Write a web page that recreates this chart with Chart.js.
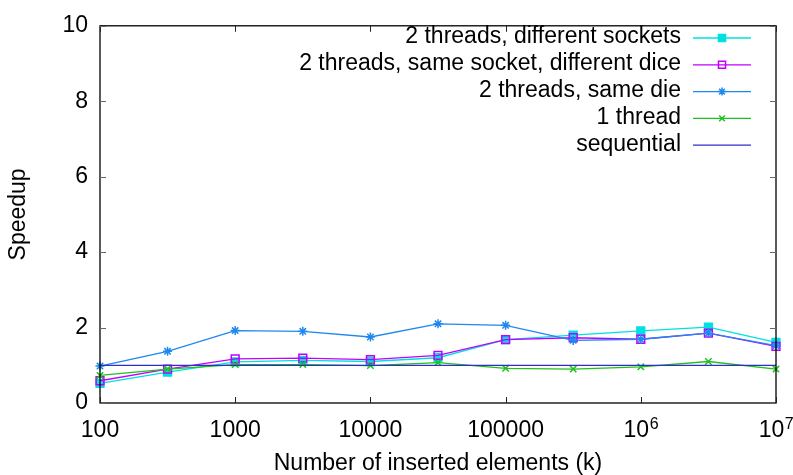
<!DOCTYPE html>
<html>
<head>
<meta charset="utf-8">
<script src="https://cdn.jsdelivr.net/npm/chart.js@4/dist/chart.umd.min.js"></script>
<style>
  html, body { margin: 0; padding: 0; background: #fff; }
  #wrap { width: 793px; height: 475px; }
</style>
</head>
<body>
<div id="wrap"><canvas id="c" width="793" height="475"></canvas></div>
<script>
// Number of inserted elements (k), half-decade steps
const elements = [100, 316, 1000, 3162, 10000, 31623, 100000, 316228, 1000000, 3162278, 10000000];

// Speedup per configuration
const diffSockets = [0.52, 0.82, 1.09, 1.13, 1.10, 1.20, 1.68, 1.80, 1.91, 2.01, 1.61];
const diffDice    = [0.59, 0.90, 1.17, 1.19, 1.15, 1.26, 1.68, 1.73, 1.69, 1.85, 1.50];
const sameDie     = [0.98, 1.37, 1.92, 1.90, 1.75, 2.10, 2.06, 1.66, 1.69, 1.85, 1.52];
const oneThread   = [0.73, 0.90, 1.02, 1.02, 0.99, 1.07, 0.92, 0.90, 0.96, 1.10, 0.90];
const sequential  = [1, 1, 1, 1, 1, 1, 1, 1, 1, 1, 1];

// Axis ticks
const xTicks = [100, 1000, 10000, 100000, 1000000, 10000000];
const yTicks = [0, 2, 4, 6, 8, 10];

const FONT = "'Liberation Sans', Arial, Helvetica, sans-serif";
const FS = 23;
const toPoints = ys => elements.map((x, i) => ({ x: x, y: ys[i] }));

function series(label, ys, color, style, radius, fill, order) {
  return {
    label: label,
    data: toPoints(ys),
    borderColor: color,
    backgroundColor: fill,
    borderWidth: 1.3,
    pointStyle: style,
    pointRadius: radius,
    pointBorderWidth: 1.5,
    pointBorderColor: color,
    pointBackgroundColor: fill,
    tension: 0,
    clip: false,
    order: order
  };
}

const datasets = [
  series('2 threads, different sockets', diffSockets, '#00e0e0', 'rect', 5.5, '#00e0e0', 5),
  series('2 threads, same socket, different dice', diffDice, '#c000ff', 'rect', 5.5, 'rgba(0,0,0,0)', 4),
  series('2 threads, same die', sameDie, '#1e88f0', 'star', 4.5, '#1e88f0', 3),
  series('1 thread', oneThread, '#1fc01f', 'crossRot', 4.5, '#1fc01f', 2),
  series('sequential', sequential, '#2f2fc8', false, 0, '#2f2fc8', 1)
];

// Frame, inward tick marks and x tick labels with powers of ten
const framePlugin = {
  id: 'frame',
  afterDatasetsDraw(chart) {
    const { ctx, chartArea: a, scales } = chart;
    const xs = scales.x, ys = scales.y;
    ctx.save();
    ctx.strokeStyle = '#000';
    ctx.lineWidth = 1.3;
    ctx.strokeRect(a.left, a.top, a.right - a.left, a.bottom - a.top);

    const len = 6;
    ctx.lineWidth = 1;
    ctx.strokeStyle = '#222';
    xTicks.forEach(v => {
      const px = Math.round(xs.getPixelForValue(v)) + 0.5;
      ctx.beginPath();
      ctx.moveTo(px, a.bottom); ctx.lineTo(px, a.bottom - len);
      ctx.moveTo(px, a.top); ctx.lineTo(px, a.top + len);
      ctx.stroke();
    });
    ctx.strokeStyle = '#666';
    yTicks.forEach(v => {
      const py = Math.round(ys.getPixelForValue(v)) + 0.5;
      ctx.beginPath();
      ctx.moveTo(a.left, py); ctx.lineTo(a.left + len, py);
      ctx.moveTo(a.right, py); ctx.lineTo(a.right - len, py);
      ctx.stroke();
    });

    // x tick labels
    ctx.fillStyle = '#000';
    ctx.textBaseline = 'alphabetic';
    const base = a.bottom + 34;
    xTicks.forEach(v => {
      const px = xs.getPixelForValue(v);
      const exp = Math.round(Math.log10(v));
      if (exp < 6) {
        ctx.font = FS + 'px ' + FONT;
        ctx.textAlign = 'center';
        ctx.fillText(String(v), px, base);
      } else {
        ctx.font = FS + 'px ' + FONT;
        const w1 = ctx.measureText('10').width;
        ctx.font = '16px ' + FONT;
        const w2 = ctx.measureText(String(exp)).width;
        const start = px - (w1 + w2) / 2;
        ctx.textAlign = 'left';
        ctx.font = FS + 'px ' + FONT;
        ctx.fillText('10', start, base);
        ctx.font = '16px ' + FONT;
        ctx.fillText(String(exp), start + w1 + 0.5, base - 8.5);
      }
    });
    ctx.restore();
  }
};

// Key in the upper right: label text, then a line sample with its marker
const keyPlugin = {
  id: 'key',
  afterDraw(chart) {
    const { ctx } = chart;
    ctx.save();
    ctx.font = FS + 'px ' + FONT;
    ctx.textAlign = 'right';
    ctx.textBaseline = 'middle';
    chart.data.datasets.forEach((ds, i) => {
      const y = 36.5 + i * 26.8;
      ctx.fillStyle = '#000';
      ctx.fillText(ds.label, 681, y + 0.5);
      ctx.strokeStyle = ds.borderColor;
      ctx.lineWidth = ds.borderWidth;
      ctx.beginPath();
      ctx.moveTo(693, y + 1.5);
      ctx.lineTo(751, y + 1.5);
      ctx.stroke();
      if (ds.pointStyle) {
        ctx.strokeStyle = ds.pointBorderColor;
        ctx.fillStyle = ds.pointBackgroundColor;
        ctx.lineWidth = ds.pointBorderWidth;
        Chart.helpers.drawPoint(ctx, {
          pointStyle: ds.pointStyle,
          radius: ds.pointRadius - 0.5,
          borderWidth: ds.pointBorderWidth,
          rotation: 0
        }, 722, y + 1.5);
      }
    });
    ctx.restore();
  }
};

new Chart(document.getElementById('c'), {
  type: 'line',
  data: { datasets: datasets },
  options: {
    responsive: false,
    animation: false,
    layout: { padding: { top: 17.5, right: 17, left: 0, bottom: 0 } },
    plugins: { legend: { display: false }, tooltip: { enabled: false } },
    scales: {
      x: {
        type: 'logarithmic',
        min: 100,
        max: 10000000,
        afterBuildTicks: s => { s.ticks = xTicks.map(v => ({ value: v })); },
        afterFit: s => { s.height = 72; },
        ticks: { display: false },
        grid: { display: false },
        border: { display: false },
        title: {
          display: true,
          text: 'Number of inserted elements (k)',
          color: '#000',
          font: { family: FONT, size: FS },
          padding: { top: 0, bottom: -2 }
        }
      },
      y: {
        type: 'linear',
        min: 0,
        max: 10,
        afterBuildTicks: s => { s.ticks = yTicks.map(v => ({ value: v })); },
        afterFit: s => { s.width = 100; },
        ticks: { color: '#000', font: { family: FONT, size: FS }, padding: 12 },
        grid: { display: false, drawTicks: false },
        border: { display: false },
        title: {
          display: true,
          text: 'Speedup',
          color: '#000',
          font: { family: FONT, size: FS },
          padding: { top: 5, bottom: 0 }
        }
      }
    }
  },
  plugins: [framePlugin, keyPlugin]
});
</script>
</body>
</html>
